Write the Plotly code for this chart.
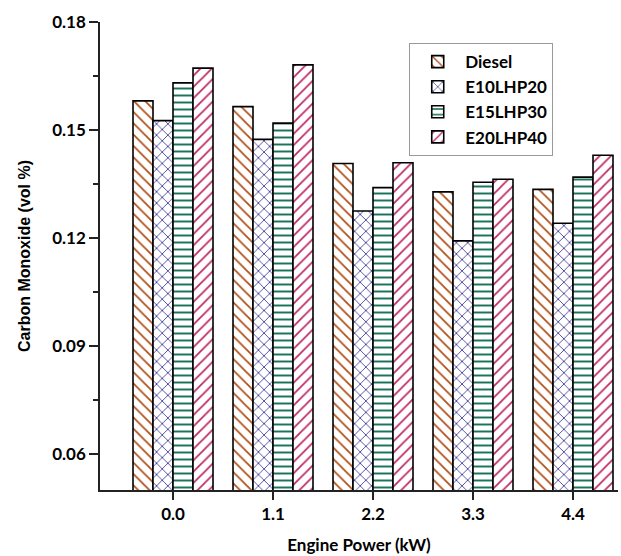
import plotly.graph_objects as go

powers = ["0.0", "1.1", "2.2", "3.3", "4.4"]
series_names = ["Diesel", "E10LHP20", "E15LHP30", "E20LHP40"]
diesel = [0.1581, 0.1565, 0.1407, 0.1328, 0.1335]
e10lhp20 = [0.1526, 0.1474, 0.1275, 0.1192, 0.1241]
e15lhp30 = [0.1631, 0.1519, 0.1340, 0.1355, 0.1369]
e20lhp40 = [0.1672, 0.1681, 0.1409, 0.1363, 0.1430]
y_ticks = [0.06, 0.09, 0.12, 0.15, 0.18]

values = [diesel, e10lhp20, e15lhp30, e20lhp40]
shapes = ["\\", "x", "-", "/"]
colors = ["#B0501A", "#4E4A9E", "#1A745A", "#BE2A66"]

fig = go.Figure()
for name, vals, shp, col in zip(series_names, values, shapes, colors):
    fig.add_trace(go.Bar(
        x=powers, y=vals, name=name,
        marker=dict(
            color="white",
            line=dict(color="black", width=1.6),
            pattern=dict(shape=shp, fgcolor=col, bgcolor="white", fillmode="replace",
                         fgopacity=1, size=8 if shp != "-" else 7,
                         solidity=0.22 if shp != "-" else 0.28),
        ),
    ))

calibri = "Lato, Carlito, 'Open Sans', sans-serif"
fig.update_layout(
    width=621, height=556,
    margin=dict(l=100, r=3, t=22, b=66),
    plot_bgcolor="white", paper_bgcolor="white",
    barmode="group", bargap=0.2, bargroupgap=0,
    showlegend=True,
    legend=dict(
        x=0.597, y=0.955, xanchor="left", yanchor="top",
        bordercolor="#9a9a9a", borderwidth=1, bgcolor="white",
        font=dict(family=calibri, size=17, color="black", weight="bold"),
        tracegroupgap=0, itemwidth=45,
    ),
    xaxis=dict(
        type="category", range=[-0.73, 4.45],
        showline=True, linecolor="#222222", linewidth=1.5,
        ticks="outside", ticklen=8, tickwidth=1.5, tickcolor="#222222",
        tickfont=dict(family=calibri, size=17, color="black", weight="bold"),
        title=dict(text="Engine Power (kW)", standoff=16,
                   font=dict(family=calibri, size=17, color="black", weight="bold")),
        showgrid=False, zeroline=False,
    ),
    yaxis=dict(
        range=[0.05, 0.18], tickvals=y_ticks, tickformat=".2f",
        showline=True, linecolor="#222222", linewidth=1.5,
        ticks="outside", ticklen=9, tickwidth=1.5, tickcolor="#222222",
        minor=dict(tickvals=[0.075, 0.105, 0.135, 0.165], ticks="outside",
                   ticklen=5, tickwidth=1.5, tickcolor="#222222", showgrid=False),
        tickfont=dict(family=calibri, size=17, color="black", weight="bold"),
        title=dict(text="Carbon Monoxide (vol %)", standoff=18,
                   font=dict(family="'Liberation Sans', Arial, sans-serif", size=16,
                             color="black", weight="bold")),
        showgrid=False, zeroline=False,
    ),
)

fig.write_html("out.html", config={"displayModeBar": False},
               post_script="document.body.style.margin='0';")
